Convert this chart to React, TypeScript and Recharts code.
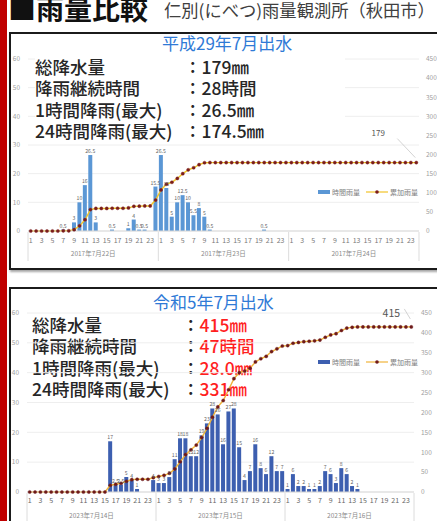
import React from 'react';
import { ComposedChart, Bar, Line, XAxis, YAxis, CartesianGrid, LabelList } from 'recharts';

const FONT = '"Noto Sans CJK JP", "Noto Sans", sans-serif';

const hours = [1, 2, 3, 4, 5, 6, 7, 8, 9, 10, 11, 12, 13, 14, 15, 16, 17, 18, 19, 20, 21, 22, 23, 24];
const leftTicks = [0, 10, 20, 30, 40, 50, 60];
const rightTicks = [0, 50, 100, 150, 200, 250, 300, 350, 400, 450];
const legendNames = ['時間雨量', '累加雨量'];

// 平成29年7月出水 (2017/7/22 - 7/24)
const days2017 = ['2017年7月22日', '2017年7月23日', '2017年7月24日'];
const rain2017 = [
  0, 0, 0, 0, 0, 0, 0.5, 0, 3, 10, 16, 26.5, 3, 0, 0, 0.5, 0, 0, 1, 4, 0.5, 0.5, 0, 15.5,
  26.5, 15, 5, 10, 12.5, 10, 5.5, 8, 5, 0.5, 0, 0, 0, 0, 0, 0, 0, 0, 0, 0.5, 0, 0, 0, 0,
  0, 0, 0, 0, 0, 0, 0, 0, 0, 0, 0, 0, 0, 0, 0, 0, 0, 0, 0, 0, 0, 0, 0, 0,
];
const cum2017 = [
  0, 0, 0, 0, 0, 0, 0.5, 0.5, 3.5, 13.5, 29.5, 56, 59, 59, 59, 59.5, 59.5, 59.5, 60.5, 64.5, 65, 65.5, 65.5, 81,
  107.5, 122.5, 127.5, 137.5, 150, 160, 165.5, 173.5, 178.5, 179, 179, 179, 179, 179, 179, 179, 179, 179, 179, 179, 179, 179, 179, 179,
  179, 179, 179, 179, 179, 179, 179, 179, 179, 179, 179, 179, 179, 179, 179, 179, 179, 179, 179, 179, 179, 179, 179, 179,
];
const stats2017 = ['179㎜', '28時間', '26.5㎜', '174.5㎜'];

// 令和5年7月出水 (2023/7/14 - 7/16)
const days2023 = ['2023年7月14日', '2023年7月15日', '2023年7月16日'];
const rain2023 = [
  0, 0, 0, 0, 0, 0, 0, 0, 0, 0, 0, 0, 0, 0, 0, 17, 2.5, 2.5, 5, 4, 1, 0, 0, 4,
  3, 3, 5, 11, 18, 18, 12, 12, 19, 23, 28, 26, 16, 27, 28, 15, 4, 7, 16, 8, 6, 12, 7, 7,
  1, 6, 2, 2, 1, 1, 2, 7, 6, 3, 8, 6, 2, 1, 0, 0, 0, 0, 0, 0, 0, 0, 0, 0,
];
const cum2023 = [
  0, 0, 0, 0, 0, 0, 0, 0, 0, 0, 0, 0, 0, 0, 0, 17, 19.5, 22, 27, 31, 32, 32, 32, 36,
  39, 42, 47, 58, 76, 94, 106, 118, 137, 160, 188, 214, 230, 257, 285, 300, 304, 311, 327, 335, 341, 353, 360, 367,
  368, 374, 376, 378, 379, 380, 382, 389, 395, 398, 406, 412, 414, 415, 415, 415, 415, 415, 415, 415, 415, 415, 415, 415,
];
const stats2023 = ['415㎜', '47時間', '28.0㎜', '331㎜'];

const statNames = ['総降水量', '降雨継続時間', '1時間降雨(最大)', '24時間降雨(最大)'];

const buildRows = (days: string[], rain: number[], cum: number[]) =>
  days.flatMap((d, di) =>
    hours.map((h, hi) => ({ key: `${di}-${h}`, rain: rain[di * 24 + hi], cum: cum[di * 24 + hi] }))
  );

const HourTick = (props: any) => {
  const { x, y, payload, band, days, hourDy, dayDy, sepLen, color } = props;
  const [dis, hs] = String(payload.value).split('-');
  const di = Number(dis);
  const h = Number(hs);
  return (
    <g>
      {h % 2 === 1 && (
        <text x={x} y={y + hourDy} textAnchor="middle" fontSize={7} fill={color} fontFamily={FONT}>
          {h}
        </text>
      )}
      {h === 12 && (
        <text x={x + band / 2} y={y + dayDy} textAnchor="middle" fontSize={6.5} fill="#8a8a8a" fontFamily={FONT}>
          {days[di]}
        </text>
      )}
      {h === 1 && <line x1={x - band / 2} x2={x - band / 2} y1={y + 1} y2={y + sepLen} stroke="#dcdcdc" />}
      {di === 2 && h === 24 && (
        <line x1={x + band / 2} x2={x + band / 2} y1={y + 1} y2={y + sepLen} stroke="#dcdcdc" />
      )}
    </g>
  );
};

type ChartCfg = {
  rows: any[];
  days: string[];
  top: number;
  height: number;
  marginTop: number;
  xHeight: number;
  leftW: number;
  rightW: number;
  band: number;
  barColor: string;
  lineColor: string;
  dotColor: string;
  tickColor: string;
  hourDy: number;
  dayDy: number;
  sepLen: number;
  totalDx: number;
  totalDy: number;
  totalSize: number;
  leader: number[];
};

const RainChart = ({ c }: { c: ChartCfg }) => {
  const last = c.rows.length - 1;
  const renderTotal = (p: any) => {
    if (p.index !== last) return null;
    const x = Number(p.x);
    const y = Number(p.y);
    return (
      <g>
        <line x1={x + c.leader[0]} y1={y + c.leader[1]} x2={x + c.leader[2]} y2={y + c.leader[3]} stroke="#c8c8c8" strokeWidth={0.8} />
        <text x={x + c.totalDx} y={y + c.totalDy} textAnchor="middle" fontSize={c.totalSize} fill="#555" fontFamily={FONT}>
          {p.value}
        </text>
      </g>
    );
  };
  return (
    <div style={{ position: 'absolute', left: 0, top: c.top }}>
      <ComposedChart
        width={437}
        height={c.height}
        data={c.rows}
        margin={{ top: c.marginTop, right: 0, left: 0, bottom: 0 }}
        barCategoryGap="10%"
      >
        <CartesianGrid vertical={false} stroke="#eeeeee" yAxisId="left" />
        <XAxis
          dataKey="key"
          interval={0}
          height={c.xHeight}
          tickLine={false}
          tickSize={0}
          tickMargin={0}
          axisLine={{ stroke: '#d9d9d9' }}
          tick={
            <HourTick
              band={c.band}
              days={c.days}
              hourDy={c.hourDy}
              dayDy={c.dayDy}
              sepLen={c.sepLen}
              color={c.tickColor}
            />
          }
        />
        <YAxis
          yAxisId="left"
          domain={[0, 60]}
          ticks={leftTicks}
          width={c.leftW}
          axisLine={false}
          tickLine={false}
          tickSize={0}
          tickMargin={8}
          tick={{ fontSize: 6.5, fill: '#a0a0a0', fontFamily: FONT }}
        />
        <YAxis
          yAxisId="right"
          orientation="right"
          domain={[0, 450]}
          ticks={rightTicks}
          width={c.rightW}
          axisLine={false}
          tickLine={false}
          tickSize={0}
          tickMargin={7}
          tick={{ fontSize: 6.5, fill: '#a0a0a0', fontFamily: FONT }}
        />
        <Bar yAxisId="left" dataKey="rain" fill={c.barColor} isAnimationActive={false}>
          <LabelList
            dataKey="rain"
            position="top"
            offset={2}
            formatter={(v: any) => (v ? v : '')}
            style={{ fontSize: 5.2, fill: '#666', fontFamily: FONT }}
          />
        </Bar>
        <Line
          yAxisId="right"
          dataKey="cum"
          type="linear"
          stroke={c.lineColor}
          strokeWidth={1.4}
          dot={{ r: 1.6, fill: c.dotColor, stroke: c.dotColor, strokeWidth: 0.4 }}
          activeDot={false}
          isAnimationActive={false}
        >
          <LabelList dataKey="cum" content={renderTotal} />
        </Line>
      </ComposedChart>
    </div>
  );
};

const Legend = ({ left, top, barColor, lineColor, dotColor }: any) => (
  <div
    style={{
      position: 'absolute',
      left,
      top,
      display: 'flex',
      alignItems: 'center',
      fontSize: 7,
      color: '#808080',
      fontFamily: FONT,
      lineHeight: '8px',
      whiteSpace: 'nowrap',
    }}
  >
    <span style={{ display: 'inline-block', width: 12, height: 4, background: barColor }} />
    <span style={{ marginLeft: 2 }}>{legendNames[0]}</span>
    <svg width={22} height={6} style={{ marginLeft: 6 }}>
      <line x1={0} y1={3} x2={22} y2={3} stroke={lineColor} strokeWidth={1.2} />
      <circle cx={11} cy={3} r={1.8} fill={dotColor} />
    </svg>
    <span style={{ marginLeft: 2 }}>{legendNames[1]}</span>
  </div>
);

const StatBlock = ({ left, top, colonLeft, valueColor, values, bg }: any) => (
  <div
    style={{
      position: 'absolute',
      left,
      top,
      width: 310,
      background: bg,
      fontFamily: FONT,
      fontSize: 17.5,
      lineHeight: '21.3px',
      color: '#262626',
      fontWeight: 500,
    }}
  >
    {statNames.map((n, i) => (
      <div key={n} style={{ position: 'relative', height: 21.3, whiteSpace: 'nowrap' }}>
        <span>{n}</span>
        <span style={{ position: 'absolute', left: colonLeft - left }}>
          ：<span style={{ color: valueColor }}>{values[i]}</span>
        </span>
      </div>
    ))}
  </div>
);

const rows2017 = buildRows(days2017, rain2017, cum2017);
const rows2023 = buildRows(days2023, rain2023, cum2023);

const chart1: ChartCfg = {
  rows: rows2017,
  days: days2017,
  top: 50,
  height: 220,
  marginTop: 9,
  xHeight: 39,
  leftW: 28,
  rightW: 18,
  band: 5.43,
  barColor: '#5b97d5',
  lineColor: '#f2c428',
  dotColor: '#7a1c1c',
  tickColor: '#7a7a7a',
  hourDy: 12,
  dayDy: 24.5,
  sepLen: 30,
  totalDx: -38,
  totalDy: -27,
  totalSize: 8,
  leader: [-19, -24, -1, -5],
};

const chart2: ChartCfg = {
  rows: rows2023,
  days: days2023,
  top: 303,
  height: 230,
  marginTop: 10,
  xHeight: 41,
  leftW: 27,
  rightW: 23,
  band: 5.375,
  barColor: '#3d5fb0',
  lineColor: '#f0b43a',
  dotColor: '#6e1a1a',
  tickColor: '#666',
  hourDy: 10.5,
  dayDy: 25.5,
  sepLen: 32,
  totalDx: -20,
  totalDy: -10,
  totalSize: 10.5,
  leader: [-7, -18, -1, -8],
};

export default function App() {
  return (
    <div
      style={{
        position: 'absolute',
        left: 0,
        top: 0,
        width: 437,
        height: 521,
        overflow: 'hidden',
        background: '#fff',
        fontFamily: FONT,
      }}
    >
      <div style={{ position: 'absolute', left: 0, top: 0, width: 7, height: 521, background: '#c00000' }} />
      <div
        style={{
          position: 'absolute',
          left: 8,
          top: -6,
          fontSize: 28,
          lineHeight: '28px',
          fontWeight: 700,
          color: '#111',
          whiteSpace: 'nowrap',
        }}
      >
        ■雨量比較
      </div>
      <div
        style={{
          position: 'absolute',
          left: 164,
          top: 1,
          fontSize: 17.3,
          lineHeight: '18px',
          color: '#404040',
          whiteSpace: 'nowrap',
        }}
      >
        仁別(にべつ)雨量観測所（秋田市）
      </div>

      {/* panel 1 */}
      <div
        style={{
          position: 'absolute',
          left: 9,
          top: 32,
          width: 440,
          height: 234,
          border: '2px solid #1b1b1b',
          boxShadow: '1px 2px 2px rgba(0,0,0,0.35)',
        }}
      />
      <RainChart c={chart1} />
      <Legend left={318} top={188} barColor={chart1.barColor} lineColor={chart1.lineColor} dotColor={chart1.dotColor} />
      <div
        style={{
          position: 'absolute',
          left: 162,
          top: 34,
          fontSize: 17,
          lineHeight: '17px',
          color: '#2f7ad6',
          whiteSpace: 'nowrap',
        }}
      >
        平成29年7月出水
      </div>
      <StatBlock left={35} top={56} colonLeft={184} valueColor="#262626" values={stats2017} bg="#fff" />

      {/* panel 2 */}
      <div
        style={{
          position: 'absolute',
          left: 9,
          top: 287,
          width: 440,
          height: 260,
          border: '2px solid #1b1b1b',
          boxShadow: '1px 2px 2px rgba(0,0,0,0.35)',
        }}
      />
      <div
        style={{
          position: 'absolute',
          left: 153,
          top: 293,
          fontSize: 17,
          lineHeight: '17px',
          color: '#2f7ad6',
          whiteSpace: 'nowrap',
        }}
      >
        令和5年7月出水
      </div>
      <StatBlock left={32} top={314} colonLeft={182} valueColor="#ff1f1f" values={stats2023} bg="transparent" />
      <RainChart c={chart2} />
      <Legend left={318} top={358} barColor={chart2.barColor} lineColor={chart2.lineColor} dotColor={chart2.dotColor} />
    </div>
  );
}
